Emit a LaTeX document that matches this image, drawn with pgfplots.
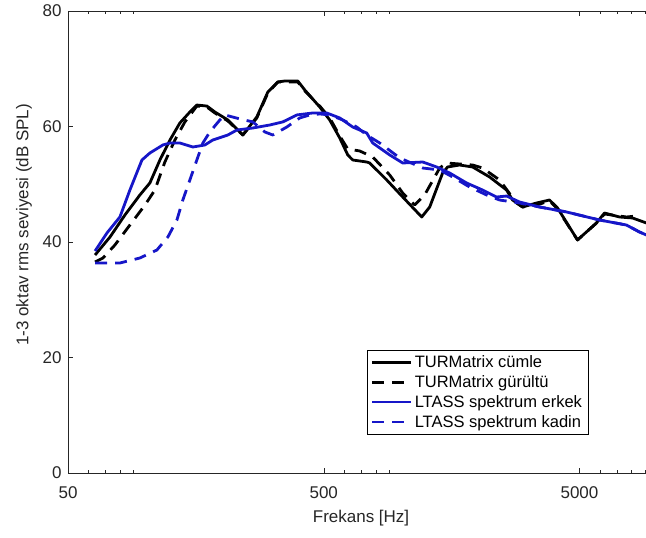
\documentclass[border=0pt]{standalone}
\usepackage{fontspec}
\setmainfont{Liberation Sans}
\usepackage{pgfplots}
\pgfplotsset{compat=1.18}
\usetikzlibrary{calc}
\definecolor{matblue}{RGB}{22,22,200}
\definecolor{axgray}{RGB}{38,38,38}

\begin{document}
\begin{tikzpicture}
\begin{axis}[
    name=ax,
    scale only axis,
    width=578pt, height=462pt,
    xmode=log,
    xmin=50, xmax=9100,
    ymin=0, ymax=80,
    axis x line=box,
    axis y line=left,
    axis line style={-, axgray, line width=0.6pt},
    tick align=inside,
    xtick={50,500,5000},
    xticklabels={50,500,5000},
    minor xtick={60,70,80,90,600,700,800,900,6000,7000,8000,9000},
    ytick={0,20,40,60,80},
    major tick length=5pt,
    minor tick length=3pt,
    tick style={axgray, line width=0.5pt},
    /pgf/number format/assume math mode=true,
    tick label style={font=\fontsize{17}{19}\selectfont, text=axgray},
    xticklabel style={yshift=-10pt},
    yticklabel style={xshift=-3pt},
    xlabel={Frekans [Hz]},
    ylabel={1-3 oktav rms seviyesi (dB SPL)},
    label style={font=\fontsize{17}{20}\selectfont, text=axgray},
    xlabel style={at={(axis description cs:0.507,0)}, anchor=north, yshift=-34pt},
    ylabel style={at={(axis description cs:-0.076,0.537)}, anchor=center},
    legend style={
        at={(0.9,0.0844)}, anchor=south east,
        font=\fontsize{16.5}{17}\selectfont,
        draw=black, line width=0.5pt,
        fill=white,
        inner xsep=4pt, inner ysep=5pt,
        row sep=6.5pt,
        nodes={inner ysep=0pt},
        legend cell align=left,
    },
    legend image code/.code={\draw[#1] (0pt,0pt) -- (39pt,0pt);},
    every axis plot/.append style={line width=2.8pt, line join=round},
]

% TURMatrix cumle
\addplot[black] coordinates {
(63.8,37.75) (73.0,40.87) (83.5,44.68) (95.5,48.14) (104.5,50.22)
(114.4,54.20) (125.2,57.66) (136.9,60.61) (149.8,62.51) (159.5,63.72)
(174.6,63.54) (187.6,62.51) (210.9,61.13) (241.3,58.53) (273.7,61.65)
(302.2,65.97) (330.6,67.71) (352,67.88) (395.8,67.88) (421.5,66.32)
(482.4,63.37) (527.6,61.13) (577.4,58.01) (620.7,55.07) (649,54.20)
(736.2,53.85) (756.2,53.68) (881.6,50.74) (1018,47.79) (1208,44.33)
(1298,46.06) (1458,51.95) (1525,52.99) (1699,53.33) (1910,52.99)
(2225,51.26) (2593,49.00) (2737,47.27) (2994,46.06) (3396,46.75)
(3817,47.27) (4103,45.89) (4911,40.35) (5825,43.29) (6262,45.02)
(7167,44.33) (8054,44.16) (9137,43.29)
};
\addlegendentry{TURMatrix cümle}

% TURMatrix gurultu
\addplot[black, dash pattern=on 12pt off 8pt] coordinates {
(63.8,36.54) (68.5,37.23) (76.3,39.48) (87.3,42.94) (100,46.41)
(109.3,49.00) (119.6,53.85) (130.9,57.66) (143.2,60.79) (159.5,63.54)
(174.6,63.37) (187.6,62.34) (210.9,60.96) (241.3,58.53) (273.7,61.48)
(302.2,65.80) (330.6,67.71) (395.8,67.71) (421.5,66.15) (482.4,63.54)
(527.6,61.48) (577.4,58.36) (620.7,56.11) (691.2,55.76) (777.2,54.72)
(905.6,51.60) (1018,48.48) (1134,46.41) (1240,48.14) (1420,52.81)
(1512,53.68) (1910,53.33) (2090,52.81) (2435,50.74) (2837,46.75)
(2994,46.06) (3396,46.41) (3817,47.10) (4103,45.72) (4911,40.35)
(5825,43.29) (6262,44.85) (7630,44.33) (8352,44.50)
};
\addlegendentry{TURMatrix gürültü}

% LTASS erkek
\addplot[matblue] coordinates {
(63.8,38.44) (71.0,41.56) (79.8,44.33) (87.3,49.00) (97.3,54.20)
(104.5,55.41) (117.5,56.80) (125.2,57.14) (136.9,57.14) (153.9,56.45)
(171.5,56.80) (184.2,57.66) (210.9,58.53) (228.7,59.39) (264,59.74)
(307.6,60.26) (345.7,60.79) (392.3,62.00) (452.9,62.34) (513.6,62.34)
(577.4,61.48) (649,59.91) (736.2,58.87) (777.2,57.14) (905.6,55.07)
(1018,53.68) (1219,53.85) (1382,52.99) (1553,51.95) (1809,50.22)
(2090,49.00) (2370,47.79) (2593,47.96) (2914,46.93) (3490,46.06)
(4448,45.20) (5984,43.81) (7630,42.94) (8581,41.73) (9137,41.21)
};
\addlegendentry{LTASS spektrum erkek}

% LTASS kadin
\addplot[matblue, dash pattern=on 12pt off 8pt] coordinates {
(63.8,36.36) (79.8,36.36) (95.5,37.23) (111.3,38.61) (122.9,40.87)
(133.3,43.81) (140.6,47.27) (149.8,50.74) (159.5,54.20) (168.4,57.14)
(179.3,59.05) (196.2,61.13) (205.3,62.00) (234.9,61.31) (264,60.79)
(294.2,59.05) (316,58.53) (358.5,59.91) (403,61.48) (440.8,62.00)
(482.4,62.17) (527.6,62.00) (593,61.13) (672.9,59.91) (736.2,58.53)
(827.6,57.14) (991.2,54.55) (1219,52.81) (1420,52.47) (1596,51.26)
(1859,49.52) (2167,48.14) (2435,47.27) (2914,46.75) (3490,46.06)
(4448,45.20) (5984,43.81) (7630,42.94) (8581,41.73) (9137,41.21)
};
\addlegendentry{LTASS spektrum kadin}

\end{axis}
\pgfresetboundingbox
\path[use as bounding box] ($(ax.south west)+(-68pt,-65pt)$) rectangle ($(ax.north east)+(0pt,11pt)$);
\end{tikzpicture}
\end{document}
